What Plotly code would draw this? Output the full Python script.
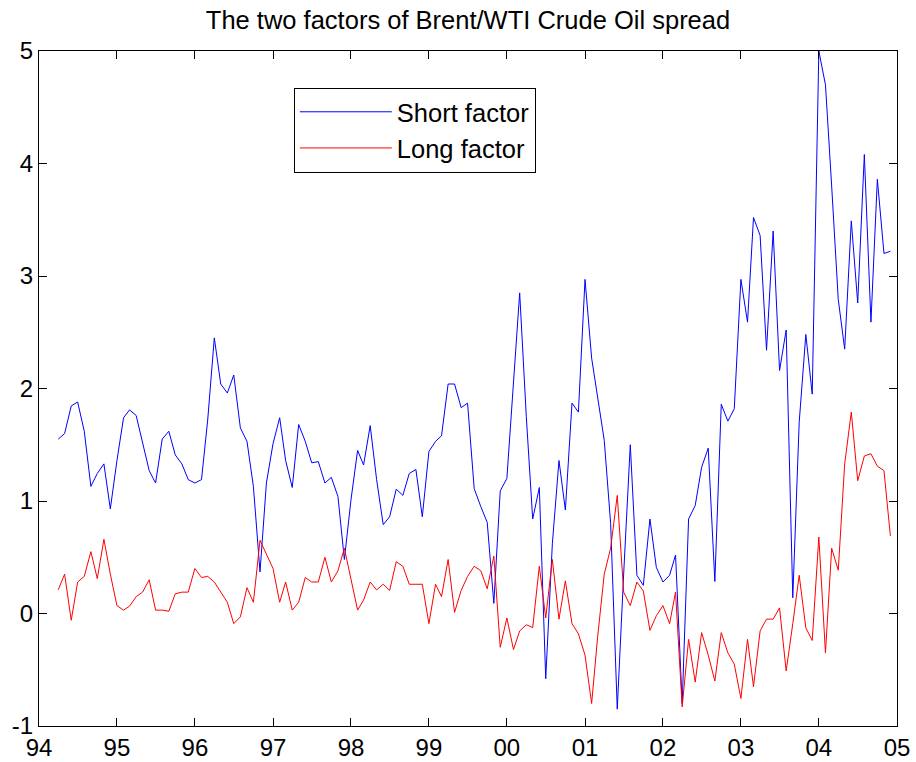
import pandas as pd
import plotly.graph_objects as go

# Monthly observations, April 1994 - December 2004
start_month = "1994-04-01"

short_factor = [
    1.55, 1.60, 1.845, 1.88, 1.62, 1.13, 1.245, 1.33, 0.93, 1.36,
    1.74, 1.81, 1.76, 1.51, 1.27, 1.16, 1.55, 1.62, 1.41, 1.33,
    1.19, 1.16, 1.19, 1.72, 2.45, 2.04, 1.96, 2.12, 1.65, 1.53,
    1.13, 0.37, 1.16, 1.51, 1.74, 1.36, 1.12, 1.68, 1.53, 1.34,
    1.35, 1.16, 1.21, 1.04, 0.48, 1.01, 1.45, 1.32, 1.67, 1.19,
    0.79, 0.86, 1.105, 1.05, 1.245, 1.28, 0.86, 1.44, 1.53, 1.58,
    2.04, 2.04, 1.83, 1.87, 1.11, 0.95, 0.81, 0.09, 1.09, 1.20,
    2.02, 2.85, 1.75, 0.84, 1.12, -0.58, 0.62, 1.36, 0.92, 1.87,
    1.79, 2.97, 2.27, 1.93, 1.54, 0.80, -0.85, 0.35, 1.50, 0.34,
    0.25, 0.84, 0.41, 0.28, 0.34, 0.52, -0.80, 0.84, 0.96, 1.30,
    1.47, 0.285, 1.86, 1.71, 1.82, 2.97, 2.59, 3.52, 3.36, 2.34,
    3.40, 2.16, 2.52, 0.14, 1.70, 2.48, 1.95, 5.00, 4.70, 3.80,
    2.79, 2.35, 3.49, 2.76, 4.08, 2.59, 3.86, 3.20, 3.22,
]

long_factor = [
    0.21, 0.35, -0.06, 0.28, 0.33, 0.55, 0.31, 0.66, 0.35, 0.07,
    0.03, 0.065, 0.15, 0.19, 0.30, 0.03, 0.03, 0.02, 0.175, 0.19,
    0.19, 0.40, 0.32, 0.33, 0.28, 0.19, 0.10, -0.09, -0.03, 0.23,
    0.10, 0.65, 0.53, 0.40, 0.10, 0.28, 0.03, 0.10, 0.32, 0.28,
    0.28, 0.50, 0.28, 0.38, 0.58, 0.32, 0.03, 0.12, 0.28, 0.21,
    0.26, 0.205, 0.46, 0.42, 0.26, 0.26, 0.26, -0.09, 0.26, 0.15,
    0.48, 0.01, 0.205, 0.33, 0.42, 0.38, 0.22, 0.51, -0.30, -0.04,
    -0.32, -0.155, -0.10, -0.125, 0.42, -0.04, 0.48, -0.05, 0.29, -0.09,
    -0.18, -0.37, -0.80, -0.21, 0.35, 0.58, 1.05, 0.19, 0.07, 0.28,
    0.20, -0.15, -0.02, 0.07, -0.09, 0.19, -0.83, -0.23, -0.61, -0.17,
    -0.37, -0.60, -0.17, -0.35, -0.45, -0.755, -0.23, -0.65, -0.155, -0.05,
    -0.05, 0.05, -0.51, -0.09, 0.34, -0.127, -0.24, 0.68, -0.35, 0.58,
    0.385, 1.33, 1.79, 1.18, 1.40, 1.42, 1.31, 1.27, 0.69,
]

x_tick_dates = ["1994-01-01", "1995-01-01", "1996-01-01", "1997-01-01",
                "1998-01-01", "1999-01-01", "2000-01-01", "2001-01-01",
                "2002-01-01", "2003-01-01", "2004-01-01", "2005-01-01"]
x_tick_labels = ["94", "95", "96", "97", "98", "99", "00", "01", "02", "03", "04", "05"]
y_tick_values = [-1, 0, 1, 2, 3, 4, 5]
y_tick_labels = ["-1", "0", "1", "2", "3", "4", "5"]

dates = pd.date_range(start_month, periods=len(short_factor), freq="MS")

FONT = "Liberation Sans, Arial, Helvetica, sans-serif"

fig = go.Figure()
fig.add_trace(go.Scatter(x=dates, y=short_factor, mode="lines",
                         name="Short factor", line=dict(color="#0000ff", width=1)))
fig.add_trace(go.Scatter(x=dates, y=long_factor, mode="lines",
                         name="Long factor", line=dict(color="#ff0000", width=1)))

axis_common = dict(showline=True, linecolor="black", linewidth=1, mirror="ticks",
                   ticks="inside", ticklen=8, tickwidth=1, tickcolor="black",
                   showgrid=False, zeroline=False, automargin=False,
                   tickfont=dict(family=FONT, size=24, color="black"))

fig.update_layout(
    width=916, height=762,
    paper_bgcolor="white", plot_bgcolor="white",
    margin=dict(l=39, r=19, t=51, b=36),
    title=dict(text="The two factors of Brent/WTI Crude Oil spread",
               font=dict(family=FONT, size=25.5, color="black"),
               x=0.5, xref="paper", xanchor="center",
               y=1 - 20 / 762, yref="container", yanchor="middle"),
    xaxis=dict(type="date", range=["1994-01-01", "2005-01-01"],
               tickvals=x_tick_dates, ticktext=x_tick_labels, **axis_common),
    yaxis=dict(range=[-1, 5], tickvals=y_tick_values, ticktext=y_tick_labels,
               **axis_common),
    legend=dict(x=0.297, y=0.9456, xanchor="left", yanchor="top",
                bgcolor="white", bordercolor="black", borderwidth=1,
                font=dict(family=FONT, size=25.5, color="black"),
                itemwidth=92, tracegroupgap=0),
    showlegend=True,
)

fig.write_html("out.html", config={"displayModeBar": False},
               post_script="document.body.style.margin='0';document.body.style.padding='0';")
